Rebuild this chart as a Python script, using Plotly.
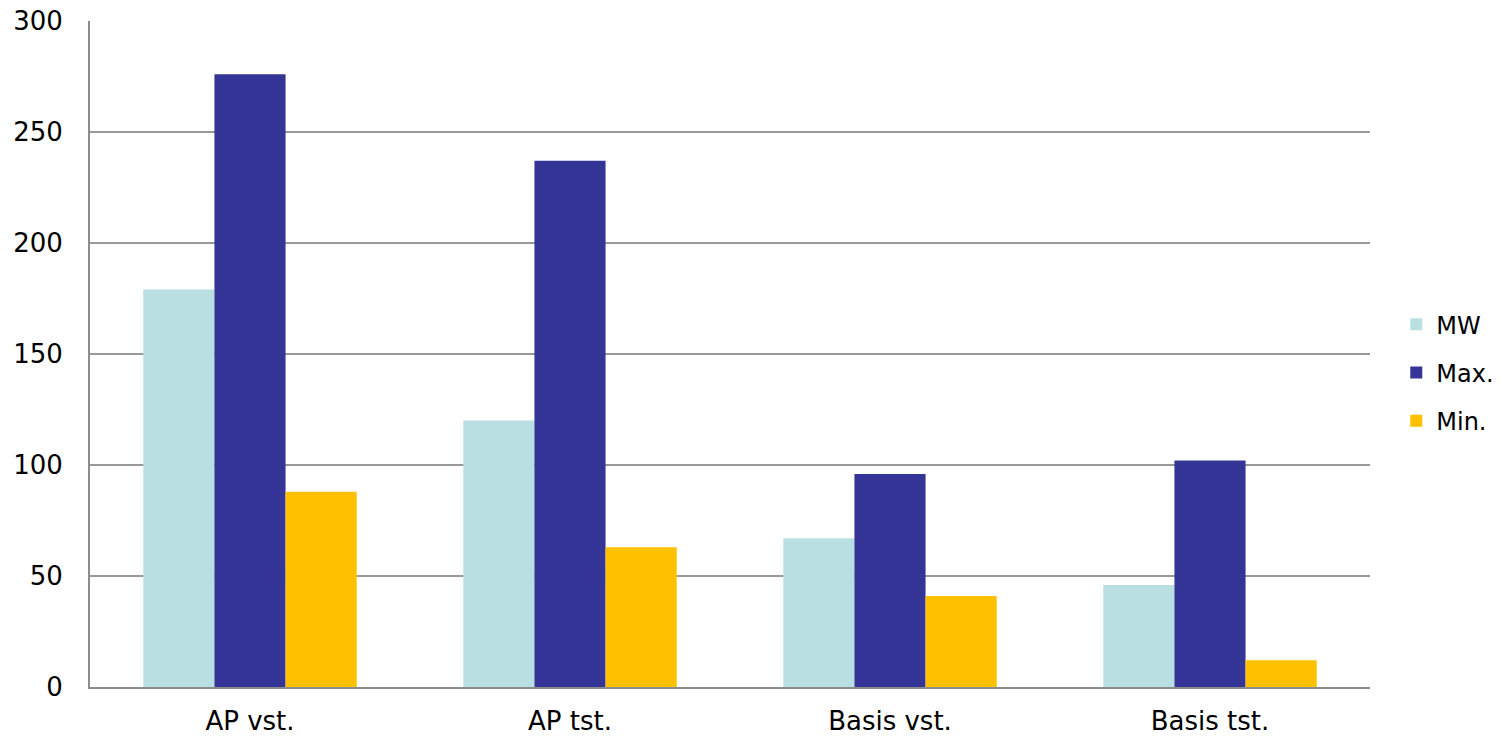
import plotly.graph_objects as go

categories = ["AP vst.", "AP tst.", "Basis vst.", "Basis tst."]
mw_values = [179, 120, 67, 46]
max_values = [276, 237, 96, 102]
min_values = [88, 63, 41, 12]
y_ticks = [0, 50, 100, 150, 200, 250, 300]

series = [
    ("MW", mw_values, "#B9DFE2"),
    ("Max.", max_values, "#353598"),
    ("Min.", min_values, "#FFC000"),
]

fig = go.Figure()
for name, vals, color in series:
    fig.add_trace(go.Bar(x=categories, y=vals, name=name, legendgroup=name,
                         marker=dict(color=color, line=dict(width=0))))

font_family = "Verdana, DejaVu Sans, sans-serif"

fig.update_layout(
    width=1503, height=738,
    margin=dict(l=90, r=133, t=21, b=51),
    plot_bgcolor="white", paper_bgcolor="white",
    barmode="group", bargap=0.333, bargroupgap=0,
    font=dict(family=font_family, size=26, color="#000000"),
    legend=dict(xref="container", x=0.929, xanchor="left",
                yref="container", y=0.495, yanchor="middle",
                font=dict(size=24), itemwidth=30, tracegroupgap=14,
                bgcolor="rgba(0,0,0,0)"),
    xaxis=dict(showgrid=False, showline=True, linecolor="#8c8c8c", linewidth=2,
               ticks="", ticklabelstandoff=10, tickfont=dict(size=26),
               automargin=False),
    yaxis=dict(range=[0, 300], tickvals=y_ticks, showgrid=True,
               gridcolor="#999999", gridwidth=1.5, showline=True,
               linecolor="#8c8c8c", linewidth=2, ticks="",
               ticklabelstandoff=20, tickfont=dict(size=26), zeroline=False,
               automargin=False),
)

fig.write_html("out.html")
